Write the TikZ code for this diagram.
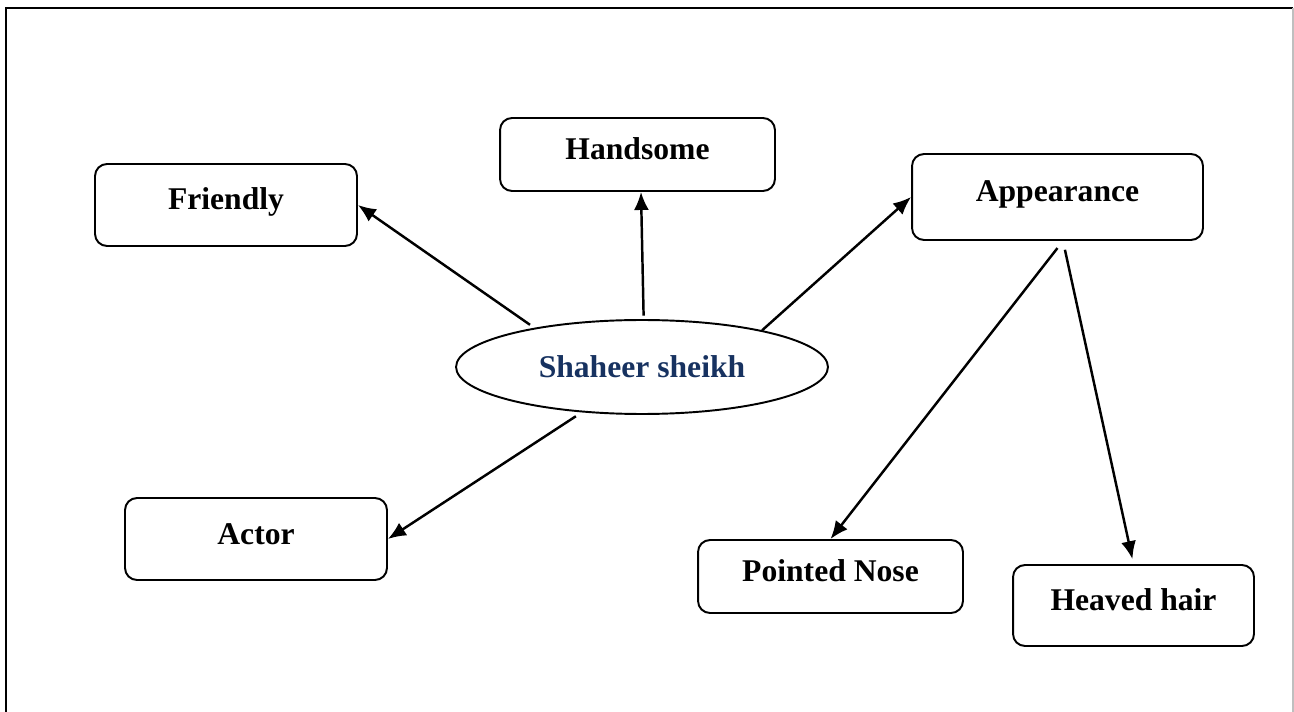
\documentclass[tikz,border=0pt]{standalone}
\usepackage{fontspec}
\setmainfont{Liberation Serif}
\usetikzlibrary{shapes.geometric,arrows.meta}

\definecolor{namecolor}{RGB}{23,50,96}

\begin{document}
\begin{tikzpicture}[x=0.02cm,y=-0.02cm,
    box/.style={draw,rounded corners=0.24cm,line width=1.1pt,inner sep=0pt,
        font=\fontsize{18}{22}\selectfont\bfseries,text height=0.5cm,text depth=0.3cm},
    hub/.style={draw,ellipse,line width=1.1pt,inner sep=0pt,
        minimum width=7.44cm,minimum height=1.88cm,
        text=namecolor,font=\fontsize{18}{22}\selectfont\bfseries},
    link/.style={line width=1.4pt,-{Latex[length=0.36cm,width=0.3cm]}}]
    \useasboundingbox (0,0) rectangle (1294,712);
    % page frame
    \draw[line width=1.2pt] (6,712) -- (6,8) -- (1293,8);
    \draw[black!25,line width=0.6pt] (1293,8) -- (1293,712);

    \node[hub] (shaheer) at (642,367) {Shaheer sheikh};
    \node[box,minimum width=5.5cm,minimum height=1.46cm] (handsome) at (637.5,154.5) {Handsome};
    \node[box,minimum width=5.24cm,minimum height=1.64cm] (friendly) at (226,205) {Friendly};
    \node[box,minimum width=5.82cm,minimum height=1.72cm] (appearance) at (1057.5,197) {Appearance};
    \node[box,minimum width=5.24cm,minimum height=1.64cm] (actor) at (256,539) {Actor};
    \node[box,minimum width=5.3cm,minimum height=1.46cm] (nose) at (830.5,576.5) {Pointed Nose};
    \node[box,minimum width=4.82cm,minimum height=1.62cm] (hair) at (1133.5,605.5) {Heaved hair};

    \draw[link,shorten <=3pt] (shaheer.160) -- (friendly.east);
    \draw[link,shorten <=2pt] (shaheer.88) -- ([xshift=0.07cm]handsome.south);
    \draw[link] (shaheer.17) -- (appearance.west);
    \draw[link,shorten <=4pt] (shaheer.217) -- (actor.east);
    \draw[link,shorten <=0.18cm] ([xshift=0.11cm]appearance.south) -- (nose.north);
    \draw[link,shorten <=0.18cm,shorten >=0.1cm] ([xshift=0.11cm]appearance.south) -- (hair.north);
\end{tikzpicture}
\end{document}
